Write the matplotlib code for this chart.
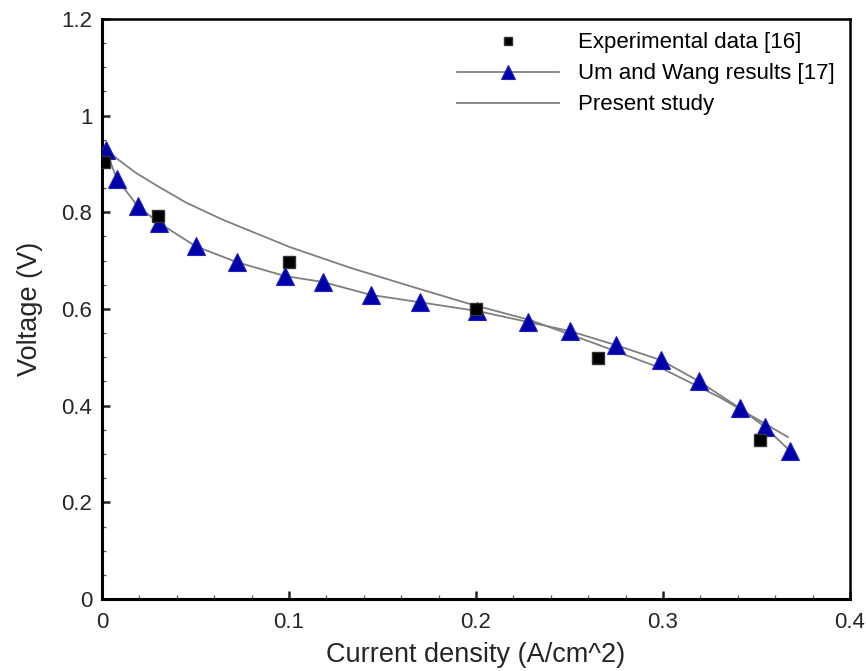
import numpy as np
import matplotlib
matplotlib.use("Agg")
import matplotlib.pyplot as plt
from matplotlib.ticker import MultipleLocator, FormatStrFormatter

plt.rcParams['font.family'] = ['Liberation Sans', 'DejaVu Sans']

# experimental data [16]
exp_x = [0.001, 0.030, 0.100, 0.200, 0.265, 0.352]
exp_v = [0.904, 0.792, 0.697, 0.600, 0.499, 0.329]

# Um and Wang results [17]
um_x = [0.002, 0.008, 0.019, 0.0305, 0.050, 0.072, 0.098, 0.118, 0.144, 0.170,
        0.2005, 0.228, 0.2505, 0.275, 0.299, 0.319, 0.341, 0.3545, 0.368]
um_v = [0.929, 0.869, 0.813, 0.778, 0.730, 0.697, 0.668, 0.656, 0.629, 0.614,
        0.596, 0.573, 0.554, 0.525, 0.494, 0.451, 0.395, 0.356, 0.306]

# present study
ps_x = [0.0, 0.007, 0.018, 0.029, 0.045, 0.065, 0.1005, 0.133, 0.165, 0.197,
        0.229, 0.2626, 0.300, 0.330, 0.3668]
ps_v = [0.940, 0.914, 0.882, 0.856, 0.820, 0.784, 0.728, 0.685, 0.647, 0.610,
        0.577, 0.530, 0.476, 0.418, 0.335]

fig = plt.figure(figsize=(8.66, 6.71), dpi=100)
ax = fig.add_axes([0.1178, 0.1073, 0.8637, 0.8644])

ax.plot(exp_x, exp_v, ls='none', marker='s', ms=8, color='black',
        mec='#333333', label='Experimental data [16]', zorder=4)
ax.plot(um_x, um_v, color='#7f7f7f', lw=1.3, marker='^', ms=13,
        mfc='#0000a8', mec='#2020c0', mew=0.8, label='Um and Wang results [17]', zorder=3)
ax.plot(ps_x, ps_v, color='#7f7f7f', lw=1.3, label='Present study', zorder=2)

ax.set_xlim(0, 0.4)
ax.set_ylim(0, 1.2)
ax.xaxis.set_major_locator(MultipleLocator(0.1))
ax.xaxis.set_minor_locator(MultipleLocator(0.02))
ax.yaxis.set_major_locator(MultipleLocator(0.2))
ax.yaxis.set_minor_locator(MultipleLocator(0.05))
ax.xaxis.set_major_formatter(FormatStrFormatter('%g'))
ax.yaxis.set_major_formatter(FormatStrFormatter('%g'))

ax.tick_params(which='both', direction='in', top=False, right=False,
               labelsize=16, labelcolor='#262626', colors='#222222')
ax.tick_params(which='major', length=6, width=1.8)
ax.tick_params(axis='x', which='major', pad=9)
ax.tick_params(axis='y', which='major', pad=7)
ax.tick_params(which='minor', length=3, width=0.9, color='#555555')

for side in ['left', 'bottom']:
    ax.spines[side].set_linewidth(2.2)
for side in ['top', 'right']:
    ax.spines[side].set_linewidth(1.8)

ax.set_xlabel('Current density (A/cm^2)', fontsize=19.5, color='#262626', labelpad=7)
ax.set_ylabel('Voltage (V)', fontsize=19.5, color='#262626', labelpad=13)

ax.legend(loc='upper left', bbox_to_anchor=(0.4746, 0.977), frameon=False,
          fontsize=16, handlelength=4.6, handletextpad=0.85, labelspacing=0.45,
          borderpad=0, borderaxespad=0, markerscale=0.75)

fig.savefig('out.png', dpi=100)
